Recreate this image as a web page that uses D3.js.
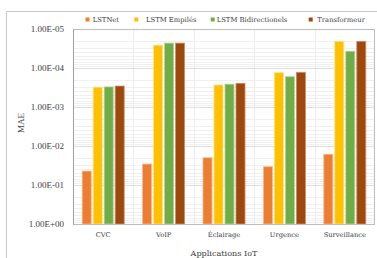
<!DOCTYPE html>
<html><head><meta charset="utf-8">
<script src="https://cdn.jsdelivr.net/npm/d3@7"></script>
<style>body{margin:0;background:#fff;}svg{display:block;}</style>
</head><body>
<script>
const categories = ["CVC", "VoIP", "Éclairage", "Urgence", "Surveillance"];
const seriesNames = ["LSTNet", "LSTM Empilés", "LSTM Bidirectionels", "Transformeur"];
const lstnet = [0.044, 0.029, 0.020, 0.034, 0.0163];
const lstmEmpiles = [3.1e-4, 2.6e-5, 2.73e-4, 1.32e-4, 2.07e-5];
const lstmBidir = [3.05e-4, 2.3e-5, 2.6e-4, 1.67e-4, 3.72e-5];
const transformeur = [2.9e-4, 2.3e-5, 2.47e-4, 1.29e-4, 2.07e-5];
const yTicks = [1, 1e-1, 1e-2, 1e-3, 1e-4, 1e-5];
const colors = ["#ED7D31", "#FFC000", "#70AD47", "#9E480E"];
const strokes = ["#f6b994", "#ffe08a", "#b3d49e", "#c98f6a"];

const seriesValues = [lstnet, lstmEmpiles, lstmBidir, transformeur];
const W = 377, H = 258;
const L = 73, R = 375, T = 29, B = 224;

const svg = d3.select("body").append("svg").attr("width", W).attr("height", H);

// outer border
svg.append("path").attr("d", `M6.5,${H+2} V11.5 H${W+2}`).attr("fill", "none").attr("stroke", "#c8c8c8").attr("stroke-width", 1);

const y = d3.scaleLog().domain([1, 1e-5]).range([B, T]);
const x0 = d3.scaleBand().domain(categories).range([L, R]).padding(0);
const x1 = d3.scaleBand().domain(seriesNames).range([9.2, 51.2]).paddingInner(0.18).paddingOuter(0);

// minor grid
const minor = [];
for (let e = 0; e > -5; e--) {
  for (let k = 2; k <= 9; k++) minor.push(k * Math.pow(10, e - 1));
}
svg.append("g").selectAll("line").data(minor).join("line")
  .attr("x1", L).attr("x2", R)
  .attr("y1", d => Math.round(y(d)) + 0.5).attr("y2", d => Math.round(y(d)) + 0.5)
  .attr("stroke", "#f0f0f0").attr("stroke-width", 1);

// vertical category grid
svg.append("g").selectAll("line").data(categories.slice(1)).join("line")
  .attr("x1", d => Math.round(x0(d)) + 0.5).attr("x2", d => Math.round(x0(d)) + 0.5)
  .attr("y1", T).attr("y2", B)
  .attr("stroke", "#ececec").attr("stroke-width", 1);

// major grid
svg.append("g").selectAll("line").data(yTicks.slice(1, -1)).join("line")
  .attr("x1", L).attr("x2", R)
  .attr("y1", d => Math.round(y(d)) + 0.5).attr("y2", d => Math.round(y(d)) + 0.5)
  .attr("stroke", "#dedede").attr("stroke-width", 1);

// bars
const groups = svg.append("g").selectAll("g").data(categories).join("g")
  .attr("transform", d => `translate(${x0(d)},0)`);
groups.selectAll("rect").data((c, i) => seriesNames.map((s, j) => ({s, j, v: seriesValues[j][i]})))
  .join("rect")
  .attr("x", d => x1(d.s))
  .attr("width", x1.bandwidth())
  .attr("y", d => y(d.v))
  .attr("height", d => y(1) - y(d.v))
  .attr("fill", d => colors[d.j])
  .attr("stroke", d => strokes[d.j]).attr("stroke-width", 0.8);

// plot border
svg.append("rect").attr("x", L + 0.5).attr("y", T + 0.5).attr("width", R - L - 1).attr("height", B - T)
  .attr("fill", "none").attr("stroke", "#bdbdbd").attr("stroke-width", 1);
svg.append("line").attr("x1", L + 0.5).attr("x2", L + 0.5).attr("y1", T).attr("y2", B + 0.5)
  .attr("stroke", "#a0a0a0");

// y axis labels
const fmt = d => {
  const e = Math.round(Math.log10(d));
  const sign = e < 0 ? "-" : "+";
  return "1.00E" + sign + String(Math.abs(e)).padStart(2, "0");
};
const yAxis = d3.axisLeft(y).tickValues(yTicks).tickFormat(fmt).tickSize(0).tickPadding(9);
const ya = svg.append("g").attr("transform", `translate(${L},0)`).call(yAxis);
ya.select(".domain").remove();
ya.selectAll("text").attr("font-family", "Liberation Serif").attr("font-size", 9).attr("fill", "#404040");

// x axis labels
const xAxis = d3.axisBottom(x0).tickSize(0).tickPadding(8);
const xa = svg.append("g").attr("transform", `translate(0,${B})`).call(xAxis);
xa.select(".domain").remove();
xa.selectAll("text").attr("font-family", "DejaVu Serif").attr("font-size", 6.7).attr("fill", "#404040");

// axis titles
svg.append("text").attr("x", (L + R) / 2).attr("y", 256).attr("text-anchor", "middle")
  .attr("font-family", "DejaVu Serif").attr("font-size", 8.1).attr("fill", "#404040").text("Applications IoT");
svg.append("text").attr("transform", "translate(24,123) rotate(-90)").attr("text-anchor", "middle")
  .attr("font-family", "Liberation Serif").attr("font-size", 9).attr("fill", "#404040").text("MAE");

// legend
const legX = [85.5, 134.3, 210.7, 308.7];
const legT = [92.7, 146, 216.7, 317.3];
const leg = svg.append("g").selectAll("g").data(seriesNames).join("g");
leg.append("rect").attr("x", (d, i) => legX[i]).attr("y", 17.5).attr("width", 4).attr("height", 4)
  .attr("fill", (d, i) => colors[i]);
leg.append("text").attr("x", (d, i) => legT[i]).attr("y", 22).attr("font-family", "DejaVu Serif")
  .attr("font-size", 6.8).attr("fill", "#404040").text(d => d);
</script>
</body></html>
